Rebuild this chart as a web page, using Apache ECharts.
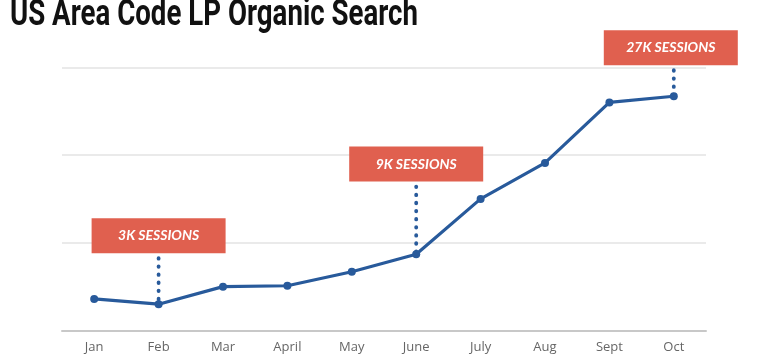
<!DOCTYPE html>
<html><head><meta charset="utf-8">
<script src="https://cdn.jsdelivr.net/npm/echarts@6/dist/echarts.min.js"></script>
<style>html,body{margin:0;padding:0;background:#fff}#c{width:761px;height:362px}</style>
</head><body><div id="c"></div>
<script>
const titleText = 'US Area Code LP Organic Search';
const months = ['Jan','Feb','Mar','April','May','June','July','Aug','Sept','Oct'];
const sessionsK = [3.6, 3.0, 5.0, 5.1, 6.7, 8.7, 15.0, 19.1, 26.0, 26.7];
const noteMonths = ['Feb','June','Oct'];
const noteLabels = ['3K SESSIONS','9K SESSIONS','27K SESSIONS'];
const yTicks = [0, 10, 20, 30];

const BLUE = '#285a9b', RED = '#e0604f';
const chart = echarts.init(document.getElementById('c'), null, {renderer:'canvas'});
chart.setOption({
  animation:false,
  grid:{left:62, right:55, top:67.3, bottom:31.5},
  xAxis:{type:'category', data:months, boundaryGap:true,
    axisLine:{lineStyle:{color:'#c8c8c8', width:2}}, axisTick:{show:false},
    axisLabel:{color:'#666', fontFamily:'Open Sans', fontSize:13, margin:10}},
  yAxis:{type:'value', min:yTicks[0], max:yTicks[yTicks.length-1], interval:yTicks[1]-yTicks[0],
    axisLabel:{show:false}, axisLine:{show:false}, axisTick:{show:false},
    splitLine:{lineStyle:{color:'#e3e3e3', width:1.5}}},
  series:[{type:'line', data:sessionsK, symbol:'circle', symbolSize:8,
    lineStyle:{color:BLUE, width:3.2}, itemStyle:{color:BLUE}, z:3}]
});

// title sized to the reference width (condensed look)
const cv = document.createElement('canvas').getContext('2d');
const tFont = 'bold 36px Roboto';
cv.font = tFont;
const tw = cv.measureText(titleText).width;
const rises = [51, 72.6, 31];
const offsX = [0, 0, -3];
const BW = 134, BH = 35;
const g = [{type:'text', x:10, y:-2, scaleX:408/tw, style:{text:titleText, font:tFont, fill:'#111', textVerticalAlign:'top'}}];
noteMonths.forEach((m, i) => {
  const idx = months.indexOf(m);
  const p = chart.convertToPixel({seriesIndex:0}, [idx, sessionsK[idx]]);
  const bottom = p[1] - rises[i];
  g.push({type:'line', z:2, shape:{x1:p[0], y1:bottom+5, x2:p[0], y2:p[1]},
    style:{stroke:BLUE, lineWidth:3.8, lineDash:[0.5,7.6], lineCap:'round'}});
  g.push({type:'rect', z:4, shape:{x:p[0]-BW/2+offsX[i], y:bottom-BH, width:BW, height:BH},
    style:{fill:RED}});
  g.push({type:'text', z:5, x:p[0]+offsX[i], y:bottom-BH/2,
    style:{text:noteLabels[i], fill:'#fff', font:'italic bold 14px Lato', textAlign:'center', textVerticalAlign:'middle'}});
});
chart.setOption({graphic:g});
</script></body></html>
